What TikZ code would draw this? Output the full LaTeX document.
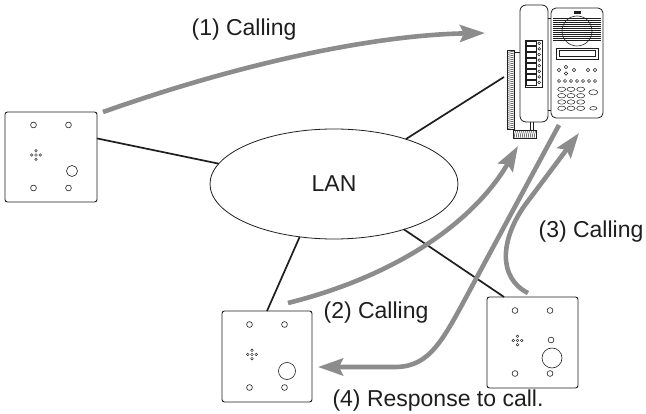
\documentclass[tikz,border=0pt]{standalone}
\usepackage{fontspec}
\setmainfont{Liberation Sans}
\usetikzlibrary{shapes.geometric,arrows.meta,calc}
\definecolor{flowgray}{HTML}{8C8C8C}
\definecolor{ink}{HTML}{1E1E1E}

\tikzset{
  panel/.style={draw=ink,line width=0.9pt,rounded corners=2.5pt,inner sep=0pt,outer sep=0pt},
  link/.style={draw=ink,line width=1.7pt},
  flow/.style={draw=flowgray,line width=4.6pt,-{Stealth[length=25pt,width=17pt,inset=4pt]}},
  hole/.style={draw=ink,line width=0.6pt},
  thin/.style={draw=ink,line width=0.5pt},
  lbl/.style={font=\fontsize{23}{26}\selectfont,text=ink},
  pics/holes/.style={code={
    \foreach \p in {(-17.5,-32),(17.5,-32),(-17.5,31),(17.5,31)}
      \draw[hole] \p circle (2.9pt);
    \begin{scope}[shift={(-15,-2)}]
      \foreach \p in {(0,-4.2),(-4.2,0),(0,0),(4.2,0),(0,4.2)}
        \draw[thin,line width=0.4pt] \p circle (1.3pt);
    \end{scope}
  }}
}

\begin{document}
\begin{tikzpicture}[x=1pt,y=-1pt]
\useasboundingbox (0,0) rectangle (646,414);

% ---------- door stations ----------
\node[panel,minimum width=92pt,minimum height=90pt] (lp) at (51,157) {};
\pic at (lp.center) {holes};
\draw[hole] ($(lp.center)+(21,14)$) circle (5.5pt);

\node[panel,minimum width=90pt,minimum height=91pt] (blp) at (267,356.5) {};
\pic at (blp.center) {holes};
\draw[hole] ($(blp.center)+(20,14.5)$) circle (8.5pt);

\node[panel,minimum width=91pt,minimum height=91pt] (brp) at (532.5,342.5) {};
\pic at (brp.center) {holes};
\draw[hole] ($(brp.center)+(18.5,-2.5)$) circle (2.9pt);
\draw[hole] ($(brp.center)+(19.5,15.5)$) circle (10pt);

% ---------- network ----------
\node[draw=ink,ellipse,line width=0.8pt,minimum width=248pt,minimum height=110pt,
      inner sep=0pt,outer sep=0pt,lbl] (lan) at (334,184) {LAN};

% ---------- master station ----------
% handset
\draw[draw=ink,line width=0.8pt,rounded corners=6pt,fill=white] (520,5) rectangle (548,122);
\draw[thin,line width=0.6pt] (525,40) rectangle (542,87);
\foreach \i in {0,...,7} {
  \draw[thin] (526.5,41+\i*5.6) rectangle (536,45.6+\i*5.6);
  \draw[thin] (539.2,43.3+\i*5.6) circle (1.4pt);
}
% coiled cord
\draw[thin] (507,50) rectangle (514,129);
\foreach \y in {51,53,...,127} \draw[thin,line width=0.45pt] (507,\y+1.6) -- (514,\y);
\draw[thin] (514,52) -- (520,52);
\draw[thin] (513,130) rectangle (536,138);
\foreach \x in {514,516,...,534} \draw[thin,line width=0.45pt] (\x,138) -- (\x+1.6,130);
\draw[thin] (530,122) -- (530,130);
\draw[thin] (533,122) -- (533,130);
% base unit
\draw[draw=ink,line width=0.8pt,rounded corners=5pt] (551,8) rectangle (603,118);
\draw[thin] (548,18) -- (551,18);
\draw[thin] (548,110) -- (551,110);
\fill[ink] (573.5,11.5) rectangle (580.5,14.5);
\foreach \y in {18,20,...,40} \draw[thin,line width=0.4pt] (553,\y) -- (601,\y);
\draw[thin,line width=0.6pt] (577,31) circle (15pt);
% display
\draw[thin,line width=0.6pt] (556,48) rectangle (598,59);
\draw[thin] (559,50.5) rectangle (595,56.5);
% function keys
\foreach \p in {(559,70),(566,67),(566,73.5),(574,70),(588,70),(595,70)}
  \draw[thin] \p circle (1.8pt);
\foreach \x in {559,565,571,577,583,589,595}
  \draw[thin] (\x,81) circle (1.6pt);
% dial pad
\foreach \x in {561.7,571,580.7}
  \foreach \y in {89.3,95.7,102,108.3}
    \draw[thin] (\x,\y) ellipse (4pt and 2.2pt);
\draw[thin] (593.3,92.3) ellipse (4.5pt and 2.6pt);
\draw[thin] (593.3,108.3) ellipse (3.6pt and 1.8pt);

\coordinate (cord) at (504,77);
\coordinate (ph1) at (485,33);
\coordinate (ph2) at (518,146);
\coordinate (ph3) at (579,133);
\coordinate (ph4) at (559,125);

% ---------- wiring ----------
\draw[link] (lp.22) -- (lan.170.4);
\draw[link] (lan.32.2) -- (cord);
\draw[link] (lan.237.3) -- (blp.north);
\draw[link] (lan.327.8) -- (brp.122);

% ---------- call flow ----------
\draw[flow] ($(lp.north east)+(6,0)$) .. controls (250,60) and (380,35) .. (ph1);
\draw[flow] ($(blp.north east)+(-24,-8)$) .. controls (400,275) and (475,220) .. (ph2);
\draw[flow] ($(brp.north)+(-4.5,-4)$) .. controls (498,278) and (500,240) .. (525,205) -- (ph3);
\draw[flow] (ph4) -- (470,290) .. controls (443,340) and (430,367) .. (395,367)
  -- ($(blp.east)+(6,10.5)$);

% ---------- labels ----------
\node[lbl] (l1) at (244,30) {(1) Calling};
\node[lbl] (l2) at (376,313) {(2) Calling};
\node[lbl] (l3) at (591,232) {(3) Calling};
\node[lbl] (l4) at (438,401) {(4) Response to call.};
\end{tikzpicture}
\end{document}
